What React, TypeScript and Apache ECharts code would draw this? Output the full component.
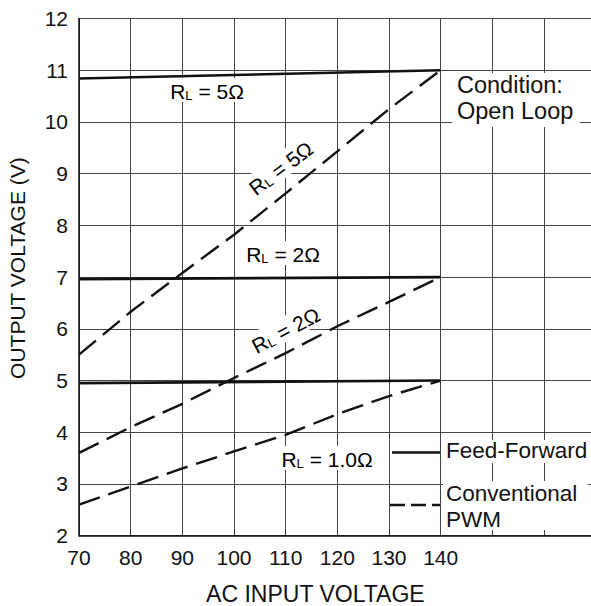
import React, { useEffect, useRef } from 'react';
import * as echarts from 'echarts';

// AC input voltage (x) sample points
const xPoints = [70, 80, 90, 100, 110, 120, 130, 140];
const xEnds = [70, 140];
// Feed-forward (solid) output voltage
const ff5 = [10.84, 11.0];
const ff2 = [6.96, 7.0];
const ff1 = [4.95, 5.0];
// Conventional PWM (dashed) output voltage
const pwm5 = [5.5, 6.33, 7.08, 7.82, 8.62, 9.43, 10.25, 11.0];
const pwm2 = [3.6, 4.1, 4.55, 5.05, 5.53, 6.05, 6.52, 7.0];
const pwm1 = [2.6, 2.95, 3.3, 3.63, 3.95, 4.35, 4.7, 5.0];
// tick labels shown on the x axis
const xTickLabels = ['70', '80', '90', '100', '110', '120', '130', '140'];

const FONT = 'Liberation Sans, Arial, Helvetica, sans-serif';

const pair = (xs: number[], ys: number[]) => xs.map((x, i) => [x, ys[i]]);

const rl = (val: string) => `{r|R}{s|L}{r| = ${val}}`;
const rich = {
  r: { fontSize: 21, lineHeight: 24, verticalAlign: 'bottom', fontFamily: FONT, color: '#111' },
  s: { fontSize: 13, lineHeight: 15, verticalAlign: 'bottom', fontFamily: FONT, color: '#111' },
};

const CHART_W = 600;

export default function App() {
  const ref = useRef<HTMLDivElement>(null);
  useEffect(() => {
    if (!ref.current) return;
    const chart = echarts.init(ref.current, undefined, { renderer: 'svg' });
    const solid = (name: string, data: number[][]) => ({
      name,
      type: 'line',
      data,
      symbol: 'none',
      lineStyle: { color: '#111', width: 2.6, type: 'solid' },
      z: 3,
    });
    const dashed = (name: string, data: number[][]) => ({
      name,
      type: 'line',
      data,
      symbol: 'none',
      lineStyle: { color: '#111', width: 2.4, type: [22, 9] },
      z: 3,
    });
    const labelText = (text: string, x: number, y: number, rotation = 0) => ({
      type: 'text',
      x,
      y,
      rotation,
      z: 120,
      style: {
        text,
        rich,
        align: 'center',
        verticalAlign: 'middle',
        backgroundColor: '#fff',
        padding: [0, 3, 0, 3],
      },
    });
    const plainText = (text: string, x: number, y: number, size: number) => ({
      type: 'text',
      x,
      y,
      z: 120,
      style: {
        text,
        fontSize: size,
        fontFamily: FONT,
        fill: '#111',
        align: 'left',
        verticalAlign: 'middle',
      },
    });
    chart.setOption({
      animation: false,
      backgroundColor: '#fff',
      grid: {
        left: 79,
        right: CHART_W - 595.7,
        top: 18.5,
        bottom: 70.3,
        containLabel: false,
        outerBoundsMode: 'none',
      },
      xAxis: {
        type: 'value',
        min: 70,
        max: 170,
        interval: 10,
        name: 'AC INPUT VOLTAGE',
        nameLocation: 'middle',
        nameGap: 47,
        nameTextStyle: { fontSize: 23, fontFamily: FONT, color: '#111', padding: [0, 44, 0, 0] },
        axisLine: { lineStyle: { color: '#111', width: 1.5 } },
        axisTick: { show: false },
        axisLabel: {
          fontSize: 21,
          fontFamily: FONT,
          color: '#111',
          margin: 11,
          formatter: (v: number) => (xTickLabels.includes(String(v)) ? String(v) : ''),
        },
        splitLine: { show: true, lineStyle: { color: '#444', width: 1 } },
      },
      yAxis: {
        type: 'value',
        min: 2,
        max: 12,
        interval: 1,
        name: 'OUTPUT VOLTAGE (V)',
        nameLocation: 'middle',
        nameGap: 51,
        nameTextStyle: { fontSize: 21, fontFamily: FONT, color: '#111', padding: [0, 0, 0, 18] },
        axisLine: { show: true, lineStyle: { color: '#111', width: 1.5 } },
        axisTick: { show: false },
        axisLabel: { fontSize: 21, fontFamily: FONT, color: '#111', margin: 11 },
        splitLine: { show: true, lineStyle: { color: '#444', width: 1 } },
      },
      series: [
        solid('Feed-Forward RL=5Ω', pair(xEnds, ff5)),
        solid('Feed-Forward RL=2Ω', pair(xEnds, ff2)),
        solid('Feed-Forward RL=1.0Ω', pair(xEnds, ff1)),
        dashed('Conventional PWM RL=5Ω', pair(xPoints, pwm5)),
        dashed('Conventional PWM RL=2Ω', pair(xPoints, pwm2)),
        dashed('Conventional PWM RL=1.0Ω', pair(xPoints, pwm1)),
      ],
      graphic: [
        labelText(rl('5Ω'), 207, 90),
        labelText(rl('5Ω'), 280, 167, (37 * Math.PI) / 180),
        labelText(rl('2Ω'), 283, 253),
        labelText(rl('2Ω'), 285, 329, (28 * Math.PI) / 180),
        labelText(rl('1.0Ω'), 327, 458),
        { type: 'rect', z: 110, shape: { x: 452, y: 73, width: 128, height: 54 }, style: { fill: '#fff' } },
        plainText('Condition:', 457, 85, 23.5),
        plainText('Open Loop', 457, 111, 23.5),
        { type: 'rect', z: 110, shape: { x: 443, y: 440, width: 160, height: 23 }, style: { fill: '#fff' } },
        { type: 'rect', z: 110, shape: { x: 443, y: 481, width: 145, height: 49 }, style: { fill: '#fff' } },
        {
          type: 'line',
          z: 115,
          shape: { x1: 392, y1: 452.5, x2: 440, y2: 452.5 },
          style: { stroke: '#111', lineWidth: 2.6 },
        },
        {
          type: 'line',
          z: 115,
          shape: { x1: 390, y1: 505, x2: 440, y2: 505 },
          style: { stroke: '#111', lineWidth: 2.4, lineDash: [15, 6] },
        },
        plainText('Feed-Forward', 446, 450, 22.5),
        plainText('Conventional', 446, 493, 22.5),
        plainText('PWM', 446, 519, 22.5),
      ],
    });
    return () => chart.dispose();
  }, []);
  return (
    <div
      style={{
        position: 'absolute',
        left: 0,
        top: 0,
        width: 591,
        height: 606,
        overflow: 'hidden',
        background: '#fff',
      }}
    >
      <div ref={ref} style={{ width: CHART_W, height: 606 }} />
    </div>
  );
}
